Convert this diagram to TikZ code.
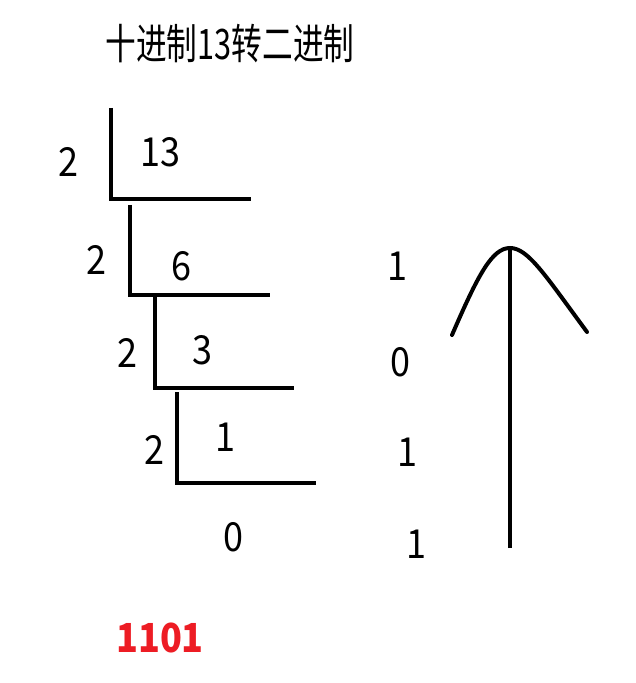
\documentclass[tikz,border=0pt]{standalone}
\usepackage{fontspec}
\setmainfont{Noto Sans CJK SC}[FakeStretch=0.9]
\newfontfamily\titlefont{Noto Sans CJK SC}[FakeStretch=0.73]
\usepackage{tikz}
\usetikzlibrary{calc}
\definecolor{resred}{HTML}{ED1C24}
\tikzset{
    num/.style={font=\fontsize{20}{24}\selectfont, inner sep=0pt},
    bar/.style={line width=2pt},
}

\begin{document}
\begin{tikzpicture}[scale=1,>=latex,x=0.5pt,y=-0.5pt]
    \useasboundingbox (0,0) rectangle (635,683);
    \node[num,font=\fontsize{21}{24}\titlefont] (title) at (230,44) {十进制13转二进制};
    % division brackets
    \draw[bar] (111,108) -- (111,199) -- (251,199);
    \draw[bar] (130,205) -- (130,295) -- (270,295);
    \draw[bar] (155,295) -- (155,388) -- (294,388);
    \draw[bar] (177,392) -- (177,483) -- (316,483);
    % divisors
    \node[num] (d1) at (68,162) {2};
    \node[num] (d2) at (96,260) {2};
    \node[num] (d3) at (127,353) {2};
    \node[num] (d4) at (154,450) {2};
    % quotients
    \node[num] (q1) at (160,152) {13};
    \node[num] (q2) at (181,266) {6};
    \node[num] (q3) at (202,350) {3};
    \node[num] (q4) at (225,437) {1};
    \node[num] (q5) at (233,537) {0};
    % remainders
    \node[num] (r1) at (397,266) {1};
    \node[num] (r2) at (400,362) {0};
    \node[num] (r3) at (407,452) {1};
    \node[num] (r4) at (416,544) {1};
    % read upwards
    \coordinate (up0) at (510,548);
    \coordinate (up1) at (510,248);
    \draw[bar] (up0) -- (up1);
    \draw[bar,line cap=round] (452,335) .. controls (478,275) and (492,248) .. (up1)
        .. controls (528,248) and (545,275) .. (587,332);
    \node[num,font=\fontsize{20}{24}\selectfont\bfseries,text=resred] (res) at (160,638) {1101};
\end{tikzpicture}
\end{document}
